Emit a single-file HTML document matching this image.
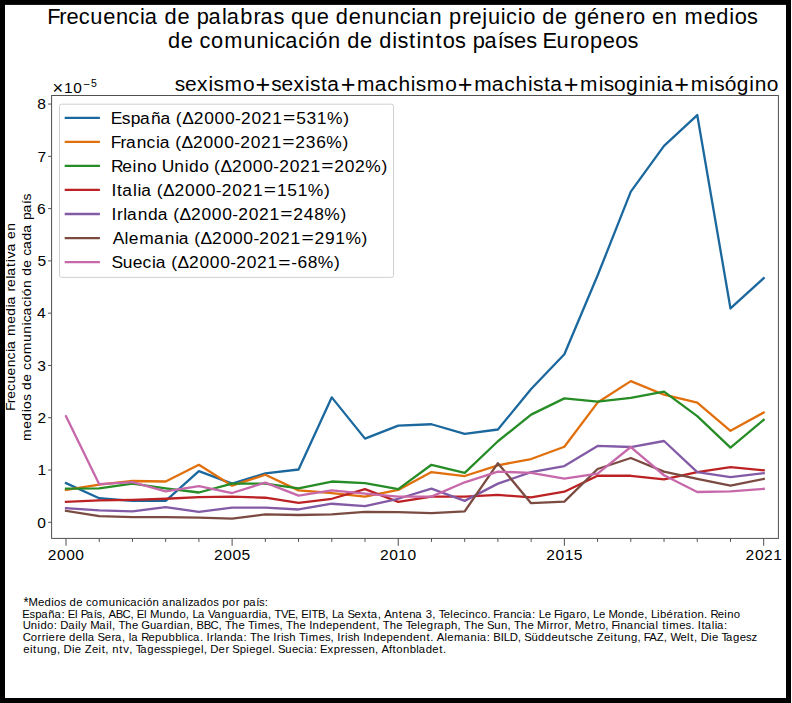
<!DOCTYPE html>
<html><head><meta charset="utf-8"><style>
html,body{margin:0;padding:0;background:#fff;}
body{width:792px;height:703px;overflow:hidden;position:relative;}
svg{position:absolute;left:0;top:0;display:block;}
text{font-variant-ligatures:none;font-kerning:none;}
</style></head><body>
<svg width="792" height="703" viewBox="0 0 792 703">
<rect x="0" y="0" width="792" height="703" fill="#fff"/><clipPath id="ax"><rect x="51.6" y="95.5" width="726.8" height="442.9"/></clipPath><g clip-path="url(#ax)" fill="none" stroke-width="2.3" stroke-linejoin="round" stroke-linecap="square"><polyline points="66.00,483.09 99.22,498.25 132.45,500.87 165.67,500.87 198.90,471.07 232.12,483.61 265.34,473.42 298.57,469.50 331.79,397.35 365.01,438.65 398.24,425.58 431.46,424.27 464.69,433.95 497.91,429.50 531.13,388.99 564.36,354.22 597.58,275.54 630.80,191.63 664.03,145.88 697.25,115.04 730.48,308.47 763.70,278.15" stroke="#1b689e"/><polyline points="66.00,489.89 99.22,484.66 132.45,481.00 165.67,481.52 198.90,464.79 232.12,485.70 265.34,474.73 298.57,490.41 331.79,493.02 365.01,496.68 398.24,489.89 431.46,472.11 464.69,476.03 497.91,465.31 531.13,459.04 564.36,446.76 597.58,402.58 630.80,381.14 664.03,394.74 697.25,402.58 730.48,430.81 763.70,412.51" stroke="#e06f0c"/><polyline points="66.00,488.58 99.22,488.32 132.45,483.61 165.67,488.32 198.90,492.50 232.12,483.61 265.34,483.61 298.57,488.32 331.79,481.52 365.01,483.09 398.24,489.10 431.46,464.79 464.69,472.90 497.91,441.27 531.13,414.60 564.36,398.40 597.58,401.53 630.80,397.87 664.03,391.60 697.25,416.17 730.48,447.54 763.70,419.83" stroke="#268c26"/><polyline points="66.00,501.91 99.22,500.34 132.45,499.82 165.67,498.77 198.90,497.21 232.12,496.68 265.34,497.73 298.57,502.96 331.79,498.77 365.01,489.10 398.24,501.91 431.46,496.68 464.69,496.68 497.91,494.85 531.13,497.47 564.36,491.72 597.58,475.77 630.80,475.77 664.03,479.43 697.25,472.11 730.48,467.14 763.70,470.28" stroke="#bc2223"/><polyline points="66.00,508.18 99.22,510.28 132.45,511.32 165.67,507.14 198.90,511.84 232.12,507.66 265.34,507.66 298.57,509.49 331.79,503.74 365.01,506.09 398.24,498.77 431.46,488.58 464.69,500.87 497.91,483.61 531.13,472.11 564.36,466.10 597.58,445.97 630.80,447.02 664.03,441.00 697.25,472.11 730.48,477.08 763.70,473.16" stroke="#825aa6"/><polyline points="66.00,510.80 99.22,516.03 132.45,517.07 165.67,517.07 198.90,517.59 232.12,518.64 265.34,514.46 298.57,514.98 331.79,514.46 365.01,511.84 398.24,512.11 431.46,513.15 464.69,511.32 497.91,463.22 531.13,503.22 564.36,501.65 597.58,468.97 630.80,458.00 664.03,471.59 697.25,478.91 730.48,485.70 763.70,478.91" stroke="#7b4b42"/><polyline points="66.00,416.17 99.22,484.14 132.45,482.04 165.67,491.45 198.90,486.23 232.12,493.02 265.34,482.57 298.57,495.64 331.79,490.41 365.01,493.55 398.24,496.68 431.46,496.68 464.69,482.31 497.91,471.59 531.13,472.90 564.36,478.65 597.58,473.68 630.80,447.02 664.03,475.25 697.25,491.98 730.48,491.45 763.70,488.84" stroke="#c768aa"/></g><rect x="51.6" y="95.5" width="726.8" height="442.9" fill="none" stroke="#505050" stroke-width="1"/><path d="M48.10,522.30H51.60 M48.10,470.02H51.60 M48.10,417.74H51.60 M48.10,365.46H51.60 M48.10,313.18H51.60 M48.10,260.90H51.60 M48.10,208.62H51.60 M48.10,156.34H51.60 M48.10,104.06H51.60 M66.00,538.40V545.80 M99.22,538.40V541.90 M132.45,538.40V541.90 M165.67,538.40V541.90 M198.90,538.40V541.90 M232.12,538.40V545.80 M265.34,538.40V541.90 M298.57,538.40V541.90 M331.79,538.40V541.90 M365.01,538.40V541.90 M398.24,538.40V545.80 M431.46,538.40V541.90 M464.69,538.40V541.90 M497.91,538.40V541.90 M531.13,538.40V541.90 M564.36,538.40V545.80 M597.58,538.40V541.90 M630.80,538.40V541.90 M664.03,538.40V541.90 M697.25,538.40V541.90 M730.48,538.40V541.90 M763.70,538.40V545.80" stroke="#505050" stroke-width="1" fill="none"/>
<g font-family="'Liberation Sans', sans-serif" fill="#000">
<text transform="scale(1.0,1)" x="37.15" y="527.5999999999999" font-size="15.55">0</text><text transform="scale(1.0,1)" x="37.44" y="475.32" font-size="15.55">1</text><text transform="scale(1.0,1)" x="37.44" y="423.03999999999996" font-size="15.55">2</text><text transform="scale(1.0,1)" x="37.37" y="370.75999999999993" font-size="15.55">3</text><text transform="scale(1.0,1)" x="37.00" y="318.47999999999996" font-size="15.55">4</text><text transform="scale(1.0,1)" x="37.39" y="266.2" font-size="15.55">5</text><text transform="scale(1.0,1)" x="37.10" y="213.91999999999996" font-size="15.55">6</text><text transform="scale(1.0,1)" x="37.39" y="161.63999999999993" font-size="15.55">7</text><text transform="scale(1.0,1)" x="37.18" y="109.35999999999994" font-size="15.55">8</text><text transform="scale(1.0,1)" x="47.69 57.04 66.20 75.37" y="559.8" font-size="15.55">2000</text><text transform="scale(1.0,1)" x="213.96 223.31 232.47 241.58" y="559.8" font-size="15.55">2005</text><text transform="scale(1.0,1)" x="379.93 389.28 398.36 407.60" y="559.8" font-size="15.55">2010</text><text transform="scale(1.0,1)" x="546.20 555.55 564.63 573.82" y="559.8" font-size="15.55">2015</text><text transform="scale(1.0,1)" x="745.58 754.93 763.90 773.17" y="559.8" font-size="15.55">2021</text><text transform="matrix(1.2651,0,0,1.2670,52.44,94.16)" x="0" y="0" font-size="14.40">×</text><text transform="scale(1.02,1)" x="62.74 71.80" y="92.6" font-size="15.12">10</text><text transform="matrix(1.2884,0,0,1.1644,83.12,87.68)" x="0" y="0" font-size="9.20">−</text><text transform="scale(1.02,1)" x="89.22" y="87.2" font-size="10.29">5</text><text transform="scale(1.02,1)" x="46.32 58.12 65.20 77.16 88.58 101.14 113.62 125.76 137.25 141.81 154.84 161.27 173.91 186.17 192.83 204.41 217.64 222.21 235.55 248.64 255.35 268.18 278.79 285.21 297.96 310.52 322.78 329.21 341.85 354.33 366.91 379.66 391.80 403.29 407.84 421.10 433.54 440.20 453.29 460.38 472.70 478.32 491.06 496.10 507.59 512.90 525.16 531.59 544.23 556.49 562.91 575.56 588.04 600.51 613.49 620.50 632.76 639.15 651.63 664.07 671.09 689.92 702.25 715.06 720.37 732.43" y="23.9" font-size="21.40">Frecuencia de palabras que denuncian prejuicio de género en medios</text><text transform="scale(1.02,1)" x="164.71 177.34 189.59 195.64 206.87 219.79 238.70 251.44 264.08 269.11 279.60 292.32 303.80 309.11 321.58 334.01 340.42 353.05 365.30 371.72 384.52 389.66 400.95 408.29 413.85 426.97 434.07 446.12 456.72 463.38 474.95 487.88 493.31 503.95 515.99 526.60 531.84 545.69 558.92 565.92 578.48 590.88 603.09 615.13" y="47.9" font-size="21.38">de comunicación de distintos países Europeos</text><text transform="scale(1.02,1)" x="171.28 181.49 193.22 204.46 209.39 220.21 238.21" y="90.6" font-size="20.53">sexismo</text><text transform="matrix(1.2884,0,0,1.2814,255.61,92.80)" x="0" y="0" font-size="19.55">+</text><text transform="scale(1.02,1)" x="265.83 276.05 287.77 299.01 303.94 314.78 320.88" y="90.6" font-size="20.53">sexista</text><text transform="matrix(1.2884,0,0,1.2814,340.70,92.80)" x="0" y="0" font-size="19.55">+</text><text transform="scale(1.02,1)" x="350.09 367.35 379.57 390.58 402.74 407.67 418.50 436.49" y="90.6" font-size="20.53">machismo</text><text transform="matrix(1.2884,0,0,1.2814,457.86,92.80)" x="0" y="0" font-size="19.55">+</text><text transform="scale(1.02,1)" x="464.96 482.22 494.44 505.45 517.61 522.54 533.38 539.48" y="90.6" font-size="20.53">machista</text><text transform="matrix(1.2884,0,0,1.2814,563.67,92.80)" x="0" y="0" font-size="19.55">+</text><text transform="scale(1.02,1)" x="568.69 586.91 591.84 601.99 613.82 626.12 631.46 643.59 647.96" y="90.6" font-size="20.53">misoginia</text><text transform="matrix(1.2884,0,0,1.2814,674.31,92.80)" x="0" y="0" font-size="19.55">+</text><text transform="scale(1.02,1)" x="677.16 695.39 700.32 710.47 722.30 734.59 739.93 751.83" y="90.6" font-size="20.53">misógino</text><rect x="59.5" y="104.2" width="334" height="173.2" rx="2" ry="2" fill="#fff" fill-opacity="0.8" stroke="#d0d0d0" stroke-width="1"/><path d="M64.7,117.80H99.9" stroke="#1b689e" stroke-width="2.3" stroke-linecap="butt"/><text transform="scale(1.02,1)" x="108.60 119.40 128.12 137.38 147.93 157.27 167.69 172.43 178.58 189.85 200.22 210.37 220.53 230.40 236.23 246.60 256.54 266.82" y="123.6" font-size="17.09">España (Δ2000-2021</text><text transform="matrix(1.2884,0,0,0.8758,282.98,123.20)" x="0" y="0" font-size="16.28">=</text><text transform="scale(1.02,1)" x="290.37 300.61 310.65 320.56 336.44" y="123.6" font-size="17.09">531%)</text><path d="M64.7,141.85H99.9" stroke="#e06f0c" stroke-width="2.3" stroke-linecap="butt"/><text transform="scale(1.02,1)" x="108.65 118.07 123.43 134.02 143.72 152.90 156.54 166.95 171.70 177.84 189.12 199.48 209.64 219.79 229.66 235.49 245.86 255.80 266.08" y="147.65" font-size="17.09">Francia (Δ2000-2021</text><text transform="matrix(1.2884,0,0,0.8758,282.23,147.25)" x="0" y="0" font-size="16.28">=</text><text transform="scale(1.02,1)" x="289.49 299.88 310.01 319.83 335.71" y="147.65" font-size="17.09">236%)</text><path d="M64.7,165.90H99.9" stroke="#268c26" stroke-width="2.3" stroke-linecap="butt"/><text transform="scale(1.02,1)" x="108.94 119.88 129.83 134.28 144.19 153.98 158.56 170.92 181.02 185.35 195.39 205.19 209.93 216.08 227.35 237.72 247.87 258.03 267.90 273.73 284.10 294.04 304.32" y="171.70000000000002" font-size="17.09">Reino Unido (Δ2000-2021</text><text transform="matrix(1.2884,0,0,0.8758,321.23,171.30)" x="0" y="0" font-size="16.28">=</text><text transform="scale(1.02,1)" x="327.72 338.09 348.03 358.06 373.94" y="171.70000000000002" font-size="17.09">202%)</text><path d="M64.7,189.95H99.9" stroke="#bc2223" stroke-width="2.3" stroke-linecap="butt"/><text transform="scale(1.02,1)" x="109.29 114.73 119.81 130.38 134.82 138.46 148.87 153.62 159.76 171.04 181.40 191.56 201.71 211.58 217.42 227.78 237.73 248.00" y="195.75" font-size="17.09">Italia (Δ2000-2021</text><text transform="matrix(1.2884,0,0,0.8758,263.79,195.35)" x="0" y="0" font-size="16.28">=</text><text transform="scale(1.02,1)" x="271.53 281.71 291.84 301.75 317.63" y="195.75" font-size="17.09">151%)</text><path d="M64.7,214.00H99.9" stroke="#825aa6" stroke-width="2.3" stroke-linecap="butt"/><text transform="scale(1.02,1)" x="109.29 114.76 120.90 124.55 135.14 145.14 154.58 164.99 169.74 175.88 187.16 197.52 207.68 217.83 227.70 233.53 243.90 253.84 264.12" y="219.8" font-size="17.09">Irlanda (Δ2000-2021</text><text transform="matrix(1.2884,0,0,0.8758,280.23,219.40)" x="0" y="0" font-size="16.28">=</text><text transform="scale(1.02,1)" x="287.53 297.89 308.05 317.86 333.75" y="219.8" font-size="17.09">248%)</text><path d="M64.7,238.05H99.9" stroke="#7b4b42" stroke-width="2.3" stroke-linecap="butt"/><text transform="scale(1.02,1)" x="110.51 121.99 126.30 136.63 151.01 161.60 171.70 175.34 185.75 190.50 196.64 207.92 218.28 228.44 238.59 248.46 254.30 264.66 274.61 284.88" y="243.85000000000002" font-size="17.09">Alemania (Δ2000-2021</text><text transform="matrix(1.2884,0,0,0.8758,301.40,243.45)" x="0" y="0" font-size="16.28">=</text><text transform="scale(1.02,1)" x="308.29 318.60 328.72 338.63 354.51" y="243.85000000000002" font-size="17.09">291%)</text><path d="M64.7,262.10H99.9" stroke="#c768aa" stroke-width="2.3" stroke-linecap="butt"/><text transform="scale(1.02,1)" x="109.28 120.23 130.27 139.82 149.00 152.64 163.05 167.79 173.94 185.22 195.58 205.74 215.89 225.76 231.59 241.96 251.90 262.18" y="267.90000000000003" font-size="17.09">Suecia (Δ2000-2021</text><text transform="matrix(1.2884,0,0,0.8758,278.25,267.50)" x="0" y="0" font-size="16.28">=</text><text transform="scale(1.02,1)" x="285.51 291.56 301.71 311.53 327.41" y="267.90000000000003" font-size="17.09">-68%)</text><g transform="translate(15.2,316.6) rotate(-90)"><text transform="scale(1.02,1)" x="-92.59 -85.08 -80.57 -72.96 -65.69 -57.70 -49.76 -42.03 -34.72 -31.82 -23.52 -19.05 -7.07 0.78 8.93 11.83 20.13 24.62 29.13 37.06 39.96 48.70 53.37 57.01 63.80 72.09 76.16 84.10" y="0" font-size="13.62">Frecuencia media relativa en</text></g><g transform="translate(30.8,317.35) rotate(-90)"><text transform="scale(1.02,1)" x="-121.13 -109.15 -101.30 -93.15 -89.77 -82.09 -75.34 -71.25 -63.20 -55.40 -51.55 -44.39 -36.16 -24.12 -16.00 -7.95 -4.74 1.93 10.04 17.35 20.73 28.68 36.59 40.68 48.73 56.53 60.38 67.06 75.40 82.92 91.22 95.46 102.83 111.07 114.53" y="0" font-size="13.62">medios de comunicación de cada país</text></g><text transform="matrix(1.2322,0,0,1.2990,23.59,607.30)" x="0" y="0" font-size="10.57">*</text><text transform="scale(1.02,1)" x="28.06 37.27 43.67 50.31 53.07 59.32 64.82 68.16 74.71 81.07 84.21 90.04 96.75 106.57 113.18 119.74 122.36 127.80 134.40 140.36 143.12 149.59 156.04 158.93 165.80 171.84 178.71 181.59 184.26 189.39 196.19 202.71 208.97 214.47 217.93 224.32 231.05 234.94 238.40 244.40 251.12 253.94 259.55" y="605.7" font-size="11.10">Medios de comunicación analizados por país:</text><text transform="scale(1.02,1)" x="21.85 28.86 34.53 40.53 47.39 53.45 60.32 63.71 66.43 73.65 76.43 79.21 85.09 91.81 94.63 100.02 103.43 106.45 113.54 120.18 127.87 131.27 133.99 141.21 143.99 147.03 156.29 162.90 169.39 175.92 182.17 185.57 188.77 194.22 200.99 204.02 210.15 217.03 223.52 230.13 236.22 243.35 247.10 253.74 256.11 262.76 266.16 269.13 275.52 282.30 289.32 292.72 295.44 302.44 305.29 311.67 318.95 322.35 325.55 331.00 337.76 340.60 347.65 353.99 360.32 363.61 370.27 373.67 376.70 384.17 390.98 394.70 401.17 407.22 413.98 417.39 423.76 427.16 430.13 435.04 441.50 444.29 450.50 456.46 459.34 465.64 471.47 477.65 480.95 483.70 489.82 493.30 500.17 506.47 512.43 514.79 521.66 525.05 528.24 533.95 540.31 543.06 548.92 551.73 557.86 564.99 568.63 574.88 578.28 581.48 587.18 593.54 596.58 605.76 612.23 618.72 625.28 631.53 634.93 638.13 644.11 647.04 653.47 660.20 663.68 670.80 674.61 677.36 683.84 690.29 693.59 696.53 703.63 710.10 712.98 719.42" y="617.6" font-size="11.10">España: El País, ABC, El Mundo, La Vanguardia, TVE, EITB, La Sexta, Antena 3, Telecinco. Francia: Le Figaro, Le Monde, Libération. Reino</text><text transform="scale(1.02,1)" x="22.22 30.24 36.80 39.61 46.13 52.59 55.98 59.16 66.84 73.71 76.58 79.54 85.49 88.53 97.32 104.19 107.06 109.73 113.13 116.10 122.85 129.34 135.70 138.59 147.09 153.18 160.31 164.06 170.70 173.07 179.94 186.29 189.69 192.71 199.82 206.46 214.15 217.55 220.52 227.27 233.76 240.12 243.08 249.52 252.64 262.41 268.66 274.06 277.46 280.43 287.18 293.67 300.03 303.20 306.49 312.98 319.54 326.06 332.49 338.97 345.46 352.01 358.49 365.30 368.90 372.30 375.26 382.02 388.51 394.86 397.83 402.74 409.20 412.00 418.39 425.31 428.78 435.71 442.22 448.59 451.99 454.95 461.71 468.19 474.55 477.39 484.49 491.11 497.45 500.85 503.82 510.58 517.06 523.42 526.46 535.76 538.91 542.99 546.62 553.35 557.14 560.54 563.58 572.79 579.50 583.58 587.22 593.47 596.87 599.63 605.48 608.37 614.41 621.29 627.58 633.54 635.90 642.77 645.55 649.20 653.01 656.13 665.89 672.15 677.65 680.95 684.12 687.65 690.95 697.81 700.69 703.06 709.92" y="629.4" font-size="11.10">Unido: Daily Mail, The Guardian, BBC, The Times, The Independent, The Telegraph, The Sun, The Mirror, Metro, Financial times. Italia:</text><text transform="scale(1.02,1)" x="22.30 30.07 36.80 40.88 44.88 47.67 54.40 58.07 64.43 67.76 74.32 80.78 83.66 86.02 92.79 95.62 102.67 109.40 112.88 119.54 122.94 126.33 128.70 135.46 138.40 145.51 152.02 158.51 165.17 171.75 178.27 181.15 183.77 189.21 195.97 199.27 202.44 205.99 209.98 212.34 219.22 225.71 231.84 238.70 242.09 245.06 251.82 258.30 264.66 267.84 271.38 275.38 278.04 283.65 290.12 293.08 299.52 302.64 312.41 318.66 324.06 327.46 330.63 334.18 338.18 340.84 346.45 352.92 356.09 359.38 365.87 372.43 378.95 385.38 391.86 398.35 404.90 411.38 418.19 421.89 425.19 428.22 435.67 438.47 445.17 454.51 461.38 467.94 470.30 477.17 480.56 483.58 490.84 493.92 499.68 507.66 511.06 513.90 520.97 527.54 534.12 540.68 547.11 553.96 557.56 562.91 568.86 575.35 581.71 585.05 592.12 598.58 601.71 605.49 612.10 618.59 625.02 628.42 631.18 636.47 643.87 650.81 654.22 657.29 667.16 673.62 676.76 680.36 683.76 686.94 695.14 697.93 704.29 707.25 711.79 718.59 725.15 731.40 736.79" y="641.2" font-size="11.10">Corriere della Sera, la Repubblica. Irlanda: The Irish Times, Irish Independent. Alemania: BILD, Süddeutsche Zeitung, FAZ, Welt, Die Tagesz</text><text transform="scale(1.02,1)" x="22.88 29.35 32.48 36.25 42.87 49.36 55.79 59.19 62.38 70.57 73.36 79.72 83.07 90.13 96.60 99.72 103.32 106.73 110.13 116.94 120.84 126.68 130.08 133.04 137.58 144.38 150.94 157.19 162.59 168.25 174.78 177.57 183.96 190.52 196.98 199.65 203.05 206.24 214.34 221.07 224.96 227.79 234.99 241.52 244.31 250.70 257.26 263.72 266.49 269.79 272.62 279.73 286.25 292.45 298.41 300.77 307.64 311.03 313.75 321.03 327.16 333.95 337.62 343.87 349.27 354.80 361.27 367.62 371.02 374.04 381.33 384.85 388.53 395.01 401.62 408.14 410.51 417.31 423.86 430.58 434.28" y="653.0" font-size="11.10">eitung, Die Zeit, ntv, Tagesspiegel, Der Spiegel. Suecia: Expressen, Aftonbladet.</text>
</g>
<rect x="0" y="0" width="5" height="703" fill="#000"/>
<rect x="0" y="0" width="791" height="4.9" fill="#000"/>
<rect x="786" y="0" width="5" height="703" fill="#000"/>
<rect x="0" y="698" width="791" height="5" fill="#000"/>
</svg>
</body></html>
